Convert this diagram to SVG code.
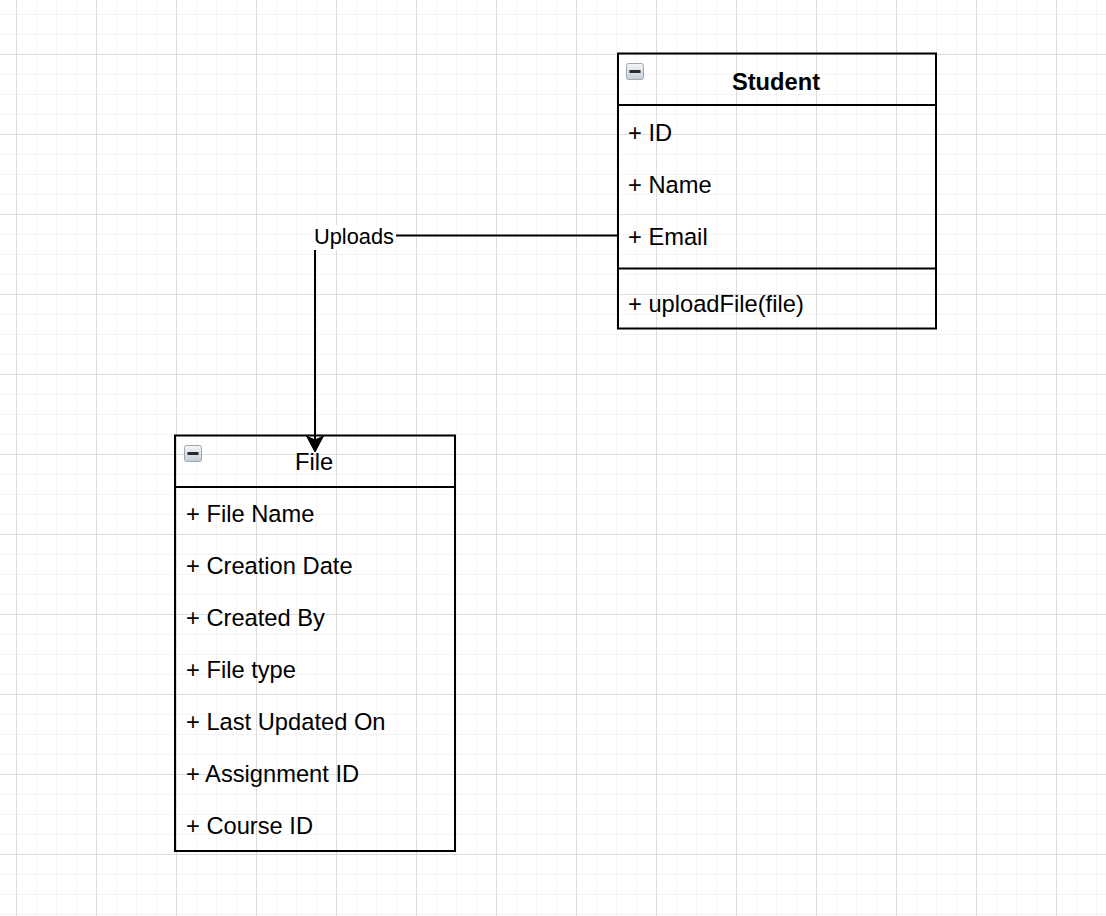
<svg xmlns="http://www.w3.org/2000/svg" width="1106" height="916" viewBox="0 0 1106 916">
<style>
.box{fill:none;stroke:#000;stroke-width:2}
.sep{stroke:#000;stroke-width:2}
.t{font-family:"Liberation Sans",Arial,sans-serif;font-size:23.7px;fill:#000}
.h{font-family:"Liberation Sans",Arial,sans-serif;font-size:23.7px;fill:#000;text-anchor:middle}
.b{font-weight:bold}
.lbl{font-family:"Liberation Sans",Arial,sans-serif;font-size:21.8px;fill:#000}
.conn{fill:none;stroke:#000;stroke-width:2}
.ico{fill:url(#icoGrad);stroke:#9ea7b0;stroke-width:1}
.bar{fill:#2a2a2a}
</style>
<defs>
<pattern id="grid" patternUnits="userSpaceOnUse" x="16" y="54" width="80" height="80">
<path d="M20.5 0V80M40.5 0V80M60.5 0V80M0 20.5H80M0 40.5H80M0 60.5H80" stroke="#f4f4f4" stroke-width="1" fill="none"/>
<path d="M0.5 0V80M0 0.5H80" stroke="#dcdcdc" stroke-width="1" fill="none"/>
</pattern>
<linearGradient id="icoGrad" x1="0" y1="0" x2="0" y2="1">
<stop offset="0" stop-color="#f4f7fa"/>
<stop offset="1" stop-color="#c4ccd5"/>
</linearGradient>
<marker id="arrow" markerUnits="userSpaceOnUse" viewBox="0 -9 17 18" refX="4" refY="0" markerWidth="17" markerHeight="18" orient="auto">
<path d="M0,-8.5 L16,0 L0,8.5 L4,0 Z" fill="#000" stroke="#000" stroke-width="1"/>
</marker>
</defs>
<rect width="1106" height="916" fill="#fff"/>
<rect width="1106" height="916" fill="url(#grid)"/>

<g id="connectors">
<path class="conn" d="M618 235.5H315V440" marker-end="url(#arrow)"/>
<g id="label-uploads">
<rect x="312" y="225" width="84" height="25" fill="#fff"/>
<text class="lbl" x="314" y="243.5">Uploads</text>
</g>
</g>

<g id="student">
<rect class="box" x="618" y="53.5" width="318" height="275"/>
<line class="sep" x1="618" y1="105" x2="936" y2="105"/>
<line class="sep" x1="618" y1="268.5" x2="936" y2="268.5"/>
<rect class="ico" x="626.5" y="63.5" width="17" height="16" rx="2"/>
<rect class="bar" x="629.5" y="70" width="11" height="3"/>
<text class="h b" x="776" y="90">Student</text>
<text class="t" x="628" y="141">+ ID</text>
<text class="t" x="628" y="193">+ Name</text>
<text class="t" x="628" y="245">+ Email</text>
<text class="t" x="628" y="312">+ uploadFile(file)</text>
</g>

<g id="file">
<rect class="box" x="175" y="435.5" width="280" height="415.5"/>
<line class="sep" x1="175" y1="487" x2="455" y2="487"/>
<rect class="ico" x="184.5" y="445.5" width="17" height="16" rx="2"/>
<rect class="bar" x="187.5" y="452" width="11" height="3"/>
<text class="h" x="314" y="470">File</text>
<text class="t" x="186" y="522">+ File Name</text>
<text class="t" x="186" y="574">+ Creation Date</text>
<text class="t" x="186" y="626">+ Created By</text>
<text class="t" x="186" y="678">+ File type</text>
<text class="t" x="186" y="730">+ Last Updated On</text>
<text class="t" x="186" y="782">+ Assignment ID</text>
<text class="t" x="186" y="834">+ Course ID</text>
</g>
</svg>
